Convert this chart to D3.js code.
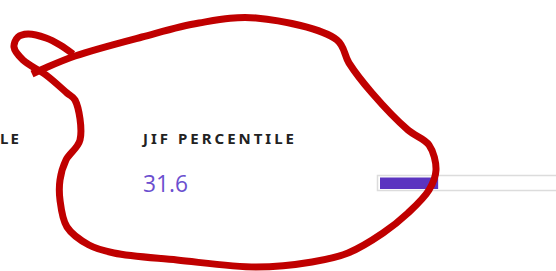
<!DOCTYPE html>
<html>
<head>
<meta charset="utf-8">
<script src="https://cdn.jsdelivr.net/npm/d3@7"></script>
<style>
  html, body { margin: 0; padding: 0; background: #fff; }
  svg { display: block; }
</style>
</head>
<body>
<script>
// metric columns (only the tail of the first one is visible)
const labels = ["LE", "JIF PERCENTILE"];
const values = [null, 31.6];
const domainMax = 100;

// hand-drawn red loop over the picture (annotation, not data)
const scribble = [
  [32, 74], [43, 69], [75, 56], [142, 37], [199, 23], [256, 18],
  [337, 40], [349, 63], [372, 93], [408, 130], [429, 145], [436, 170],
  [429, 190], [408, 213], [383, 233], [348, 253], [312, 262], [256, 267],
  [177, 260], [114, 253], [89, 245], [67, 227], [60, 200], [60, 180],
  [66, 160], [80, 140], [75, 100], [67, 93], [46, 75], [23, 60],
  [14, 47], [18, 37], [28, 34], [46, 38], [60, 45], [73, 54]
];

const width = 556;
const height = 271;

const svg = d3.select('body')
  .append('svg')
  .attr('width', width)
  .attr('height', height);

// column x positions
const colX = [0, 143];

// labels
svg.append('text')
  .attr('x', colX[0])
  .attr('y', 144)
  .attr('textLength', 19)
  .attr('lengthAdjust', 'spacing')
  .style('font-family', '"Noto Sans", sans-serif')
  .style('font-weight', 'bold')
  .style('font-size', '15px')
  .style('fill', '#222')
  .text(labels[0]);

svg.append('text')
  .attr('x', colX[1])
  .attr('y', 144)
  .attr('textLength', 151)
  .attr('lengthAdjust', 'spacing')
  .style('font-family', '"Noto Sans", sans-serif')
  .style('font-weight', 'bold')
  .style('font-size', '15px')
  .style('fill', '#222')
  .text(labels[1]);

// value
svg.append('text')
  .attr('x', colX[1])
  .attr('y', 192)
  .attr('textLength', 45)
  .attr('lengthAdjust', 'spacingAndGlyphs')
  .style('font-family', '"Open Sans", sans-serif')
  .style('font-size', '24px')
  .style('fill', '#6b4fcf')
  .text(values[1]);

// percentile bar
const x = d3.scaleLinear()
  .domain([0, domainMax])
  .range([380, 380 + 184]);

svg.append('rect')
  .attr('x', x(0) - 2.5)
  .attr('y', 175.5)
  .attr('width', x(domainMax) - x(0) + 5)
  .attr('height', 15)
  .attr('fill', '#fff')
  .attr('stroke', '#dcdcdc')
  .attr('stroke-width', 1.5);

svg.append('rect')
  .attr('x', x(0))
  .attr('y', 177.5)
  .attr('width', x(values[1]) - x(0))
  .attr('height', 11.5)
  .attr('fill', '#5b34c0');

// red annotation loop
const line = d3.line().curve(d3.curveCatmullRom.alpha(0.5));
svg.append('path')
  .attr('d', line(scribble))
  .attr('fill', 'none')
  .attr('stroke', '#c00000')
  .attr('stroke-width', 7)
  .attr('stroke-linejoin', 'round')
  .attr('stroke-linecap', 'butt');
</script>
</body>
</html>
